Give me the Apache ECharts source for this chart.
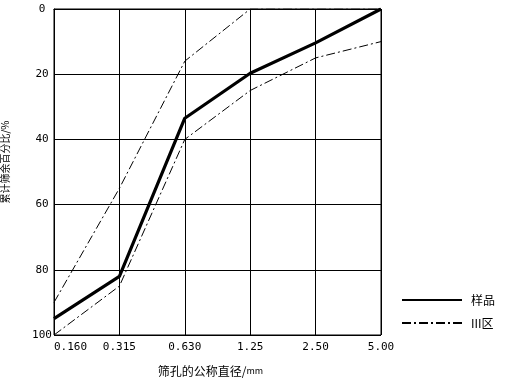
<!DOCTYPE html>
<html><head><meta charset="utf-8">
<script src="https://cdn.jsdelivr.net/npm/echarts@6/dist/echarts.min.js"></script>
<style>html,body{margin:0;padding:0;background:#fff}#c{width:508px;height:380px}</style>
</head><body><div id="c"></div>
<script>
const categories = ['0.160', '0.315', '0.630', '1.25', '2.50', '5.00'];
const sampleValues = [95, 82, 33.5, 19.7, 10.4, 0];
const zoneUpper = [90, 55, 16, 0, 0, 0];
const zoneLower = [100, 85, 40, 25, 15, 10];
const yTicks = [0, 20, 40, 60, 80, 100];

const chart = echarts.init(document.getElementById('c'));
const cjk = "'Noto Sans CJK SC', sans-serif";
const mono = "'DejaVu Sans Mono', monospace";
chart.setOption({
  animation: false,
  backgroundColor: '#fff',
  grid: { left: 54, top: 9, width: 327, height: 326, show: true, borderColor: '#000', borderWidth: 1,
    containLabel: false, outerBoundsMode: 'none' },
  legend: {
    orient: 'vertical', left: 396, top: 289, itemWidth: 60, itemHeight: 12, itemGap: 11,
    itemStyle: { opacity: 0 },
    textStyle: { fontFamily: cjk, fontSize: 12, color: '#000', padding: [0, 0, 0, 4] },
    data: [{ name: '样品' }, { name: 'III区' }]
  },
  xAxis: {
    type: 'category', data: categories, boundaryGap: false,
    axisLine: { lineStyle: { color: '#000', width: 1 } },
    axisTick: { show: false },
    axisLabel: { color: '#000', fontFamily: mono, fontSize: 11, margin: 7, alignMinLabel: 'left' },
    splitLine: { show: true, lineStyle: { color: '#000', width: 1 } },
    name: '筛孔的公称直径/{s|mm}', nameLocation: 'middle', nameGap: 30,
    nameTextStyle: { fontFamily: cjk, fontSize: 12, color: '#000', padding: [0, 14, 0, 0],
      rich: { s: { fontFamily: cjk, fontSize: 9, color: '#000' } } }
  },
  yAxis: {
    type: 'value', inverse: true, min: 0, max: 100, interval: 20,
    axisLine: { show: true, lineStyle: { color: '#000', width: 1 } },
    axisTick: { show: false },
    axisLabel: { color: '#000', fontFamily: mono, fontSize: 11, margin: 12, align: 'center',
      formatter: v => yTicks.includes(v) ? String(v) : '' },
    splitLine: { show: true, lineStyle: { color: '#000', width: 1 } },
    name: '累计筛余百分比/%', nameLocation: 'middle', nameGap: 44, nameRotate: 90,
    nameTextStyle: { fontFamily: cjk, fontSize: 10, color: '#000', padding: [0, 0, 0, 20] }
  },
  series: [
    { name: '样品', type: 'line', data: sampleValues, symbol: 'none', z: 5,
      lineStyle: { color: '#000', width: 3.2 }, itemStyle: { color: '#000' } },
    { name: 'III区', type: 'line', data: zoneUpper, symbol: 'none',
      lineStyle: { color: '#000', width: 1, type: [9, 3, 2, 3] }, itemStyle: { color: '#000' } },
    { name: 'III区', type: 'line', data: zoneLower, symbol: 'none',
      lineStyle: { color: '#000', width: 1, type: [9, 3, 2, 3] }, itemStyle: { color: '#000' } }
  ]
});
</script></body></html>
